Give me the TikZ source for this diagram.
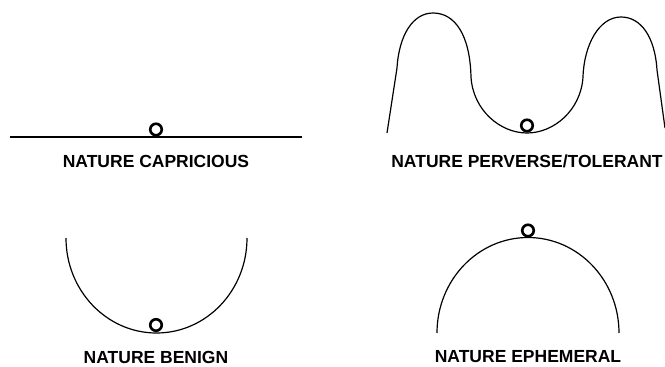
\documentclass[tikz,border=0pt]{standalone}
\usepackage{fontspec}
\setmainfont{Liberation Sans}
\begin{document}
\begin{tikzpicture}[x=1pt,y=-1pt,
  curve/.style={line width=1.2pt},
  ball/.style={draw,circle,line width=2.6pt,minimum size=11.5pt,inner sep=0pt},
  caption/.style={font=\fontsize{17.5}{20}\selectfont\bfseries,inner sep=0pt}]
\useasboundingbox (0,0) rectangle (665,367);
% Nature capricious
\coordinate (c1a) at (10,137);
\coordinate (c1b) at (302,137);
\draw[curve] (c1a) -- (c1b);
\node[ball] (b1) at (156,129.5) {};
\node[caption] (t1) at (156,161) {NATURE CAPRICIOUS};
% Nature perverse/tolerant
\coordinate (p0) at (387,133);
\coordinate (p1) at (397,68);
\coordinate (p2) at (433,13);
\coordinate (p3) at (471,77);
\coordinate (p4) at (527,133);
\coordinate (p5) at (583,77);
\coordinate (p6) at (621,17);
\coordinate (p7) at (657,70);
\coordinate (p8) at (665,128);
\draw[curve] (p0) -- (p1)
  .. controls (399,35) and (413,13) .. (p2)
  .. controls (455,13) and (470,35) .. (p3)
  .. controls (473,110) and (500,133) .. (p4)
  .. controls (554,133) and (581,110) .. (p5)
  .. controls (584,45) and (599,17) .. (p6)
  .. controls (641,17) and (655,37) .. (p7)
  -- (p8);
\node[ball] (b2) at (527,125.5) {};
\node[caption] (t2) at (527,161) {NATURE PERVERSE/TOLERANT};
% Nature benign
\coordinate (n0) at (66,238);
\draw[curve] (n0) arc[start angle=180,end angle=0,x radius=90.5,y radius=95];
\node[ball] (b3) at (156,325) {};
\node[caption] (t3) at (156,357) {NATURE BENIGN};
% Nature ephemeral
\coordinate (e0) at (437,333);
\draw[curve] (e0) arc[start angle=180,end angle=360,x radius=91,y radius=95.5];
\node[ball] (b4) at (528,230.5) {};
\node[caption] (t4) at (528,357) {NATURE EPHEMERAL};
\end{tikzpicture}
\end{document}
